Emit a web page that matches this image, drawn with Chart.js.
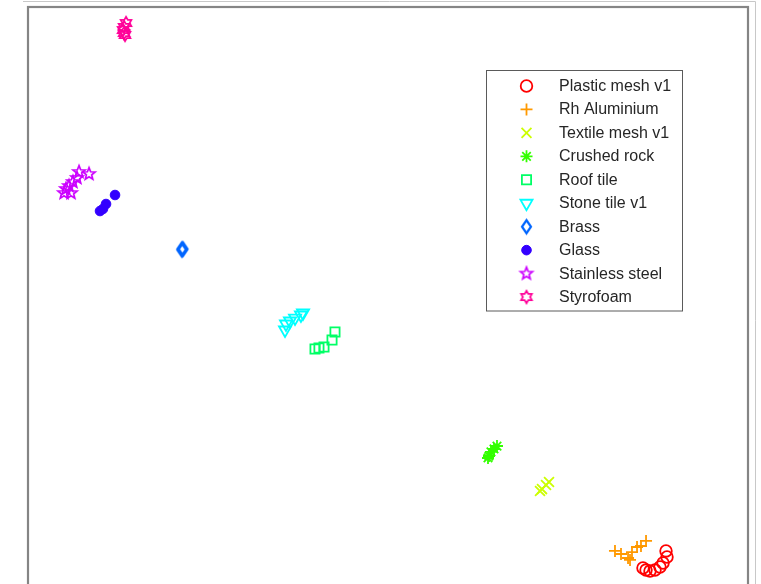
<!DOCTYPE html>
<html>
<head>
<meta charset="utf-8">
<script src="https://cdn.jsdelivr.net/npm/chart.js@4/dist/chart.umd.min.js"></script>
<style>
  html, body { margin: 0; padding: 0; background: #fff; overflow: hidden; }
  #wrap { width: 761px; height: 640px; }
</style>
</head>
<body>
<div id="wrap"><canvas id="c" width="761" height="640"></canvas></div>
<script>
// Material classes (legend order)
const categories = ['Plastic mesh v1', 'Rh Aluminium', 'Textile mesh v1', 'Crushed rock',
  'Roof tile', 'Stone tile v1', 'Brass', 'Glass', 'Stainless steel', 'Styrofoam'];

// Embedded coordinates [x, y] per class
const plasticMesh = [[30.89,-30.44],[31.0,-31.11],[30.56,-31.78],[30.22,-32.22],[29.67,-32.56],[29.11,-32.67],[28.67,-32.56],[28.33,-32.33]];
const rhAluminium = [[25.22,-30.44],[25.89,-30.78],[26.67,-31.22],[26.89,-31.44],[27.11,-30.56],[27.67,-30.0],[28.11,-29.89],[28.67,-29.33]];
const textileMesh = [[17.89,-22.78],[17.56,-23.11],[17.11,-23.56],[16.89,-23.78]];
const crushedRock = [[12.11,-18.78],[11.78,-19.11],[11.44,-19.44],[11.22,-19.89],[11.11,-20.11]];
const roofTile    = [[-5.89,-6.11],[-6.22,-7.0],[-7.11,-7.78],[-7.67,-7.89],[-8.11,-8.0]];
const stoneTile   = [[-9.44,-4.0],[-9.67,-4.22],[-10.33,-4.56],[-10.89,-4.89],[-11.33,-5.22],[-11.44,-5.89]];
const brass       = [[-22.89,3.11],[-22.89,3.0],[-22.78,3.11]];
const glass       = [[-30.33,9.11],[-31.33,8.11],[-31.67,7.56],[-32.0,7.33]];
const stainless   = [[-33.22,11.44],[-34.33,11.67],[-34.56,11.0],[-35.0,10.56],[-35.44,10.11],[-35.78,9.78],[-35.22,9.33],[-36.0,9.33]];
const styrofoam   = [[-29.11,28.22],[-29.33,27.78],[-29.44,27.44],[-29.33,27.11],[-29.22,26.89]];

const seriesData = [plasticMesh, rhAluminium, textileMesh, crushedRock, roofTile,
  stoneTile, brass, glass, stainless, styrofoam];

// hsv(10) palette
const colors = ['#FF0000', '#FF9900', '#CCFF00', '#33FF00', '#00FF66',
  '#00FFFF', '#0066FF', '#3300FF', '#CC00FF', '#FF0099'];

// ---- custom marker sprites ----
function starSprite(nPts, outer, inner, color, lw) {
  const size = Math.ceil(2 * outer + lw + 3);
  const cv = document.createElement('canvas');
  cv.width = size; cv.height = size;
  const g = cv.getContext('2d');
  g.translate(size / 2, size / 2);
  g.beginPath();
  for (let i = 0; i < nPts * 2; i++) {
    const r = i % 2 === 0 ? outer : inner;
    const a = -Math.PI / 2 + i * Math.PI / nPts;
    const px = r * Math.cos(a), py = r * Math.sin(a);
    if (i === 0) g.moveTo(px, py); else g.lineTo(px, py);
  }
  g.closePath();
  g.strokeStyle = color; g.lineWidth = lw; g.lineJoin = 'miter';
  g.stroke();
  return cv;
}
function diamondSprite(hw, hh, color, lw) {
  const w = Math.ceil(2 * hw + lw + 3), h = Math.ceil(2 * hh + lw + 3);
  const cv = document.createElement('canvas');
  cv.width = w; cv.height = h;
  const g = cv.getContext('2d');
  g.translate(w / 2, h / 2);
  g.beginPath();
  g.moveTo(0, -hh); g.lineTo(hw, 0); g.lineTo(0, hh); g.lineTo(-hw, 0);
  g.closePath();
  g.strokeStyle = color; g.lineWidth = lw;
  g.stroke();
  return cv;
}

const LW = 1.8;
const markerStyles = [
  { pointStyle: 'circle', radius: 5.8, rotation: 0 },
  { pointStyle: 'cross', radius: 6, rotation: 0 },
  { pointStyle: 'crossRot', radius: 7, rotation: 0 },
  { pointStyle: 'star', radius: 6, rotation: 0 },
  { pointStyle: 'rect', radius: 6.5, rotation: 0 },
  { pointStyle: 'triangle', radius: 7, rotation: 180 },
  { pointStyle: diamondSprite(4.5, 6.5, colors[6], 2.2), radius: 6, rotation: 0 },
  { pointStyle: 'circle', radius: 4.8, rotation: 0, filled: true },
  { pointStyle: starSprite(5, 6.4, 2.8, colors[8], 1.7), radius: 6, rotation: 0 },
  { pointStyle: starSprite(6, 6.2, 3.6, colors[9], 1.7), radius: 6, rotation: 0 }
];

const datasets = categories.map((name, i) => ({
  label: name,
  data: seriesData[i].map(p => ({ x: p[0], y: p[1] })),
  pointStyle: markerStyles[i].pointStyle,
  pointRadius: markerStyles[i].radius,
  pointHoverRadius: markerStyles[i].radius,
  pointRotation: markerStyles[i].rotation,
  borderColor: colors[i],
  backgroundColor: markerStyles[i].filled ? colors[i] : 'rgba(0,0,0,0)',
  borderWidth: markerStyles[i].filled ? 1 : LW,
  showLine: false
}));

// Axes box, outer figure edges and the boxed legend
const framePlugin = {
  id: 'frame',
  afterDraw(chart) {
    const { ctx, chartArea: a } = chart;
    ctx.save();
    // outer figure edge
    ctx.strokeStyle = '#c8c8c8';
    ctx.lineWidth = 1;
    ctx.beginPath();
    ctx.moveTo(23, 1.5); ctx.lineTo(755.5, 1.5); ctx.lineTo(755.5, chart.height);
    ctx.stroke();
    // axes box
    ctx.strokeStyle = '#858585';
    ctx.lineWidth = 2.2;
    ctx.strokeRect(a.left, a.top, a.right - a.left, a.bottom - a.top);

    // legend
    const lx = 486.5, ly = 70.5, lw = 196, lh = 240.5;
    ctx.fillStyle = '#ffffff';
    ctx.fillRect(lx, ly, lw, lh);
    ctx.strokeStyle = '#5a5a5a';
    ctx.lineWidth = 1;
    ctx.strokeRect(lx, ly, lw, lh);
    const rowTop = 86, rowStep = 23.45;
    ctx.font = '16px "Liberation Sans", Arial, sans-serif';
    ctx.textBaseline = 'middle';
    ctx.textAlign = 'left';
    chart.data.datasets.forEach((ds, i) => {
      const y = rowTop + i * rowStep;
      ctx.save();
      ctx.fillStyle = ds.backgroundColor;
      ctx.strokeStyle = ds.borderColor;
      ctx.lineWidth = ds.borderWidth;
      Chart.helpers.drawPoint(ctx, {
        pointStyle: ds.pointStyle,
        radius: ds.pointRadius,
        rotation: ds.pointRotation,
        borderWidth: ds.borderWidth
      }, 526.5, y);
      ctx.restore();
      ctx.fillStyle = '#262626';
      ctx.fillText(ds.label, 559, y + 0.5);
    });
    ctx.restore();
  }
};

new Chart(document.getElementById('c'), {
  type: 'scatter',
  data: { datasets },
  options: {
    responsive: false,
    animation: false,
    layout: { autoPadding: false, padding: { left: 28, top: 7, right: 13, bottom: 3 } },
    scales: {
      x: { type: 'linear', min: -40, max: 40, display: false },
      y: { type: 'linear', min: -40, max: 30, display: false }
    },
    plugins: { legend: { display: false }, tooltip: { enabled: false } }
  },
  plugins: [framePlugin]
});
</script>
</body>
</html>
